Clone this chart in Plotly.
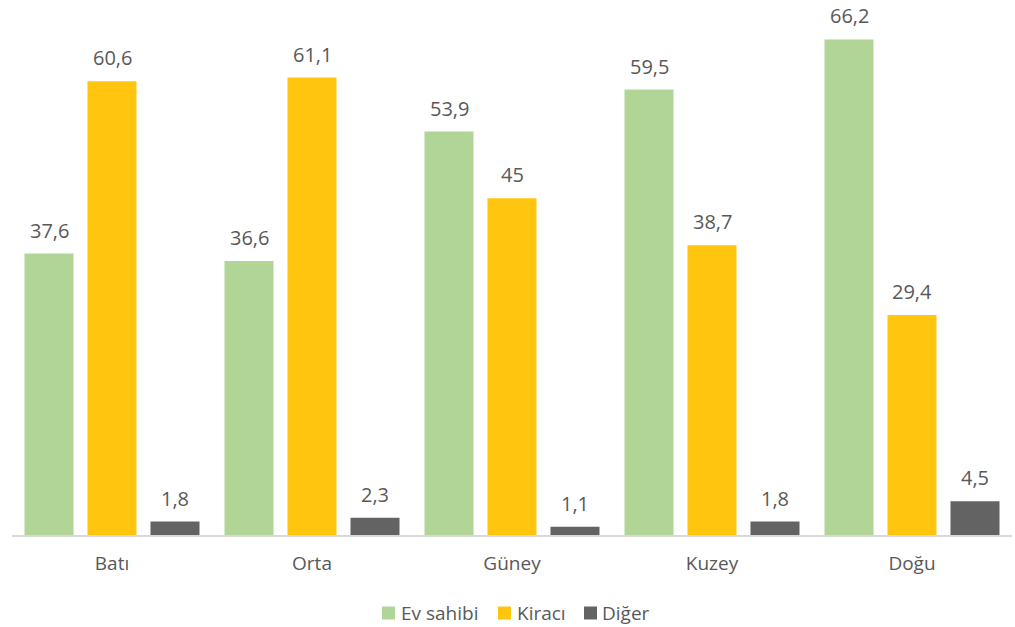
import plotly.graph_objects as go

categories = ["Batı", "Orta", "Güney", "Kuzey", "Doğu"]
ev_sahibi = [37.6, 36.6, 53.9, 59.5, 66.2]
kiraci = [60.6, 61.1, 45.0, 38.7, 29.4]
diger = [1.8, 2.3, 1.1, 1.8, 4.5]
series_names = ["Ev sahibi", "Kiracı", "Diğer"]
series_colors = ["#B0D596", "#FFC50F", "#636363"]

TEXT = "#595959"
FONT = "Open Sans"

def fmt(v):
    s = ("%.1f" % v).rstrip("0").rstrip(".")
    return s.replace(".", ",")

W, H = 1015, 627
ML, MR, MT, MB = 12, 3, 11, 92
PW, PH = W - ML - MR, H - MT - MB

fig = go.Figure()
all_series = [ev_sahibi, kiraci, diger]
n = len(all_series)
bargap, bargroupgap = 0.055, 0.222
slot = (1 - bargap) / n
for k, (name, vals, col) in enumerate(zip(series_names, all_series, series_colors)):
    fig.add_trace(go.Bar(
        name=name, x=categories, y=vals, marker_color=col,
        marker_line_width=0, showlegend=False, hoverinfo="skip",
    ))
    off = -(1 - bargap) / 2 + slot * (k + 0.5)
    for i, v in enumerate(vals):
        fig.add_annotation(
            x=i + off, y=v, xref="x", yref="y", text=fmt(v),
            showarrow=False, yanchor="bottom", xanchor="center", yshift=8,
            font=dict(family=FONT, size=20, color=TEXT),
        )

# custom legend (pixel layout converted to paper coords)
legend_sq_px = [382, 498, 584]
legend_txt_px = [399, 515, 600]
legend_y_px = 613
sq = 13
for name, col, sx, tx in zip(series_names, series_colors, legend_sq_px, legend_txt_px):
    x0 = (sx - ML) / PW
    x1 = (sx + sq - ML) / PW
    yc = (H - MB - legend_y_px) / PH
    fig.add_shape(type="rect", xref="paper", yref="paper",
                  x0=x0, x1=x1, y0=yc - (sq / 2) / PH, y1=yc + (sq / 2) / PH,
                  fillcolor=col, line_width=0)
    fig.add_annotation(x=(tx - ML) / PW, y=yc, xref="paper", yref="paper",
                       text=name, showarrow=False, xanchor="left", yanchor="middle",
                       font=dict(family=FONT, size=19, color=TEXT))

fig.update_layout(
    width=W, height=H,
    margin=dict(l=ML, r=MR, t=MT, b=MB, autoexpand=False),
    paper_bgcolor="white", plot_bgcolor="white",
    barmode="group", bargap=bargap, bargroupgap=bargroupgap,
    font=dict(family=FONT, size=19, color=TEXT),
    showlegend=False,
    xaxis=dict(range=[-0.5, len(categories) - 0.5], automargin=False,
               showline=True, linecolor="#D9D9D9", linewidth=1.5, ticks="",
               ticklabelstandoff=10, showgrid=False,
               tickfont=dict(family=FONT, size=19, color=TEXT)),
    yaxis=dict(range=[0, 70], visible=False, showgrid=False, zeroline=False,
               automargin=False),
)
fig.write_html("out.html", config={"displayModeBar": False},
               post_script="document.body.style.margin='0';document.body.style.overflow='hidden';")
